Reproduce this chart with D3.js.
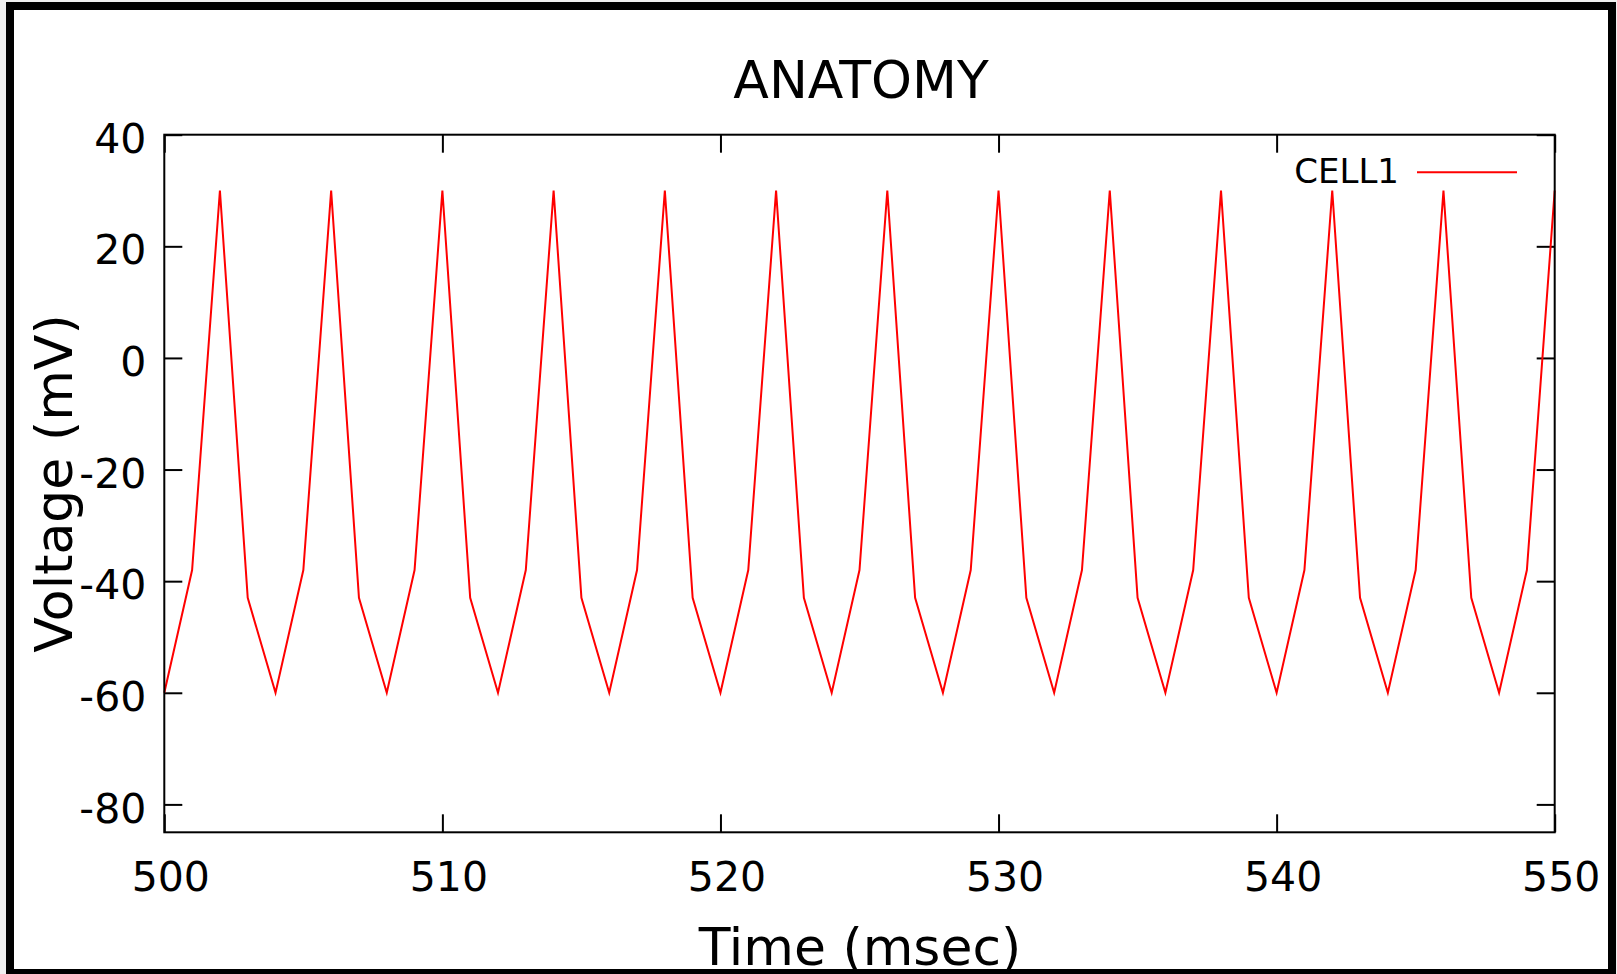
<!DOCTYPE html>
<html>
<head>
<meta charset="utf-8">
<script src="https://cdn.jsdelivr.net/npm/d3@7"></script>
<style>
  html, body { margin: 0; padding: 0; background: #f0f0f0; overflow: hidden; }
  svg { display: block; }
</style>
</head>
<body>
<div id="chart"></div>
<script>
// Data {{{
const title = "ANATOMY";
const series_name = "CELL1";
const x_label = "Time (msec)";
const y_label = "Voltage (mV)";
const time_ms = [500, 501, 502, 503, 504, 505, 506, 507, 508, 509,
                 510, 511, 512, 513, 514, 515, 516, 517, 518, 519,
                 520, 521, 522, 523, 524, 525, 526, 527, 528, 529,
                 530, 531, 532, 533, 534, 535, 536, 537, 538, 539,
                 540, 541, 542, 543, 544, 545, 546, 547, 548, 549, 550];
const voltage_mv = [-60, -38, 30, -43, -60, -38, 30, -43, -60, -38,
                    30, -43, -60, -38, 30, -43, -60, -38, 30, -43,
                    -60, -38, 30, -43, -60, -38, 30, -43, -60, -38,
                    30, -43, -60, -38, 30, -43, -60, -38, 30, -43,
                    -60, -38, 30, -43, -60, -38, 30, -43, -60, -38, 30];
const x_ticks = [500, 510, 520, 530, 540, 550];
const y_ticks = [-80, -60, -40, -20, 0, 20, 40];
const x_domain = [500, 550];
const y_domain = [-85, 40];
// }}}
// Consts {{{
const W = 1617, H = 974;
const plot = {left: 164.3, right: 1554.7, top: 134.7, bottom: 832.3};
const font = "'DejaVu Sans', sans-serif";
const line_color = "#ff0000";
const tick_len = 18;
// }}}

const svg = d3.select("#chart").append("svg")
    .attr("width", W)
    .attr("height", H);

// page frame
svg.append("rect")
    .attr("x", 10).attr("y", 6)
    .attr("width", 1602).attr("height", 967)
    .attr("fill", "white")
    .attr("stroke", "black")
    .attr("stroke-width", 8);

const x = d3.scaleLinear().domain(x_domain).range([plot.left, plot.right]);
const y = d3.scaleLinear().domain(y_domain).range([plot.bottom, plot.top]);

// plain hyphen for negatives, like gnuplot
const fmt = d => String(d);

// axes (ticks pointing inward, mirrored on top/right)
const gLeft = svg.append("g")
    .attr("transform", "translate(" + plot.left + ",0)")
    .call(d3.axisLeft(y).tickValues(y_ticks).tickFormat(fmt)
        .tickSize(-tick_len).tickPadding(18).tickSizeOuter(0));
gLeft.selectAll("text").attr("dy", "0.43em");

const gBottom = svg.append("g")
    .attr("transform", "translate(0," + plot.bottom + ")")
    .call(d3.axisBottom(x).tickValues(x_ticks).tickFormat(fmt)
        .tickSize(-tick_len).tickPadding(30).tickSizeOuter(0));
gBottom.selectAll("text").attr("dx", 6);

svg.append("g")
    .attr("transform", "translate(" + plot.right + ",0)")
    .call(d3.axisRight(y).tickValues(y_ticks).tickSize(-tick_len).tickFormat("").tickSizeOuter(0));

svg.append("g")
    .attr("transform", "translate(0," + plot.top + ")")
    .call(d3.axisTop(x).tickValues(x_ticks).tickSize(-tick_len).tickFormat("").tickSizeOuter(0));

svg.selectAll(".domain").remove();
svg.selectAll(".tick line").attr("stroke", "black").attr("stroke-width", 2);
svg.selectAll(".tick text")
    .attr("font-family", font)
    .attr("font-size", 41)
    .attr("fill", "black");

// data line
const pts = time_ms.map((t, i) => [t, voltage_mv[i]]);
svg.append("path")
    .datum(pts)
    .attr("fill", "none")
    .attr("stroke", line_color)
    .attr("stroke-width", 2)
    .attr("stroke-linejoin", "miter")
    .attr("d", d3.line().x(d => x(d[0])).y(d => y(d[1])));

// plot border
svg.append("rect")
    .attr("x", plot.left).attr("y", plot.top)
    .attr("width", plot.right - plot.left)
    .attr("height", plot.bottom - plot.top)
    .attr("fill", "none")
    .attr("stroke", "black")
    .attr("stroke-width", 2);

// legend
svg.append("text")
    .attr("x", 1399).attr("y", 183)
    .attr("text-anchor", "end")
    .attr("font-family", font)
    .attr("font-size", 34)
    .text(series_name);
svg.append("line")
    .attr("x1", 1417).attr("x2", 1517)
    .attr("y1", 172.3).attr("y2", 172.3)
    .attr("stroke", line_color)
    .attr("stroke-width", 2);

// title and axis labels
svg.append("text")
    .attr("x", 861).attr("y", 98)
    .attr("text-anchor", "middle")
    .attr("font-family", font)
    .attr("font-size", 52)
    .text(title);

svg.append("text")
    .attr("x", 860).attr("y", 965)
    .attr("text-anchor", "middle")
    .attr("font-family", font)
    .attr("font-size", 52)
    .text(x_label);

svg.append("text")
    .attr("transform", "translate(72," + ((plot.top + plot.bottom) / 2) + ") rotate(-90)")
    .attr("text-anchor", "middle")
    .attr("font-family", font)
    .attr("font-size", 52)
    .text(y_label);
</script>
</body>
</html>
